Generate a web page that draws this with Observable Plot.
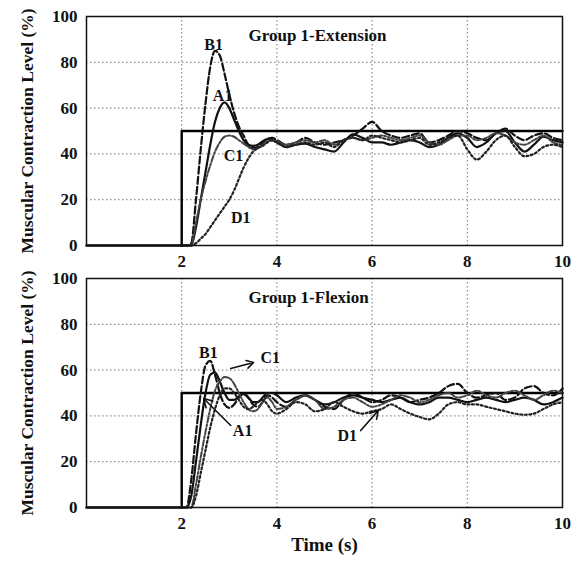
<!DOCTYPE html>
<html><head><meta charset="utf-8">
<script src="https://cdn.jsdelivr.net/npm/d3@7"></script>
<script src="https://cdn.jsdelivr.net/npm/@observablehq/plot@0.6"></script>
<style>
body{margin:0;background:#fff;}
#wrap{position:relative;width:577px;height:562px;}
#wrap svg{position:absolute;left:0;overflow:visible;}
</style></head><body><div id="wrap"></div>
<script>
// time samples (s)
const T = [2.0,2.1,2.2,2.3,2.4,2.5,2.6,2.7,2.8,2.9,3.0,3.1,3.2,3.3,3.4,3.5,3.6,3.7,3.8,3.9,4.0,4.2,4.4,4.6,4.8,5.0,5.2,5.4,5.6,5.8,6.0,6.2,6.4,6.6,6.8,7.0,7.2,7.4,7.6,7.8,8.0,8.2,8.4,8.6,8.8,9.0,9.2,9.4,9.6,9.8,10.0];
// reference step
const stepT = [0,2,2,10];
const stepV = [0,0,50,50];
// Group 1 - Extension
const extA1 = [0,0,0,8,20,32,44,54,60,62.5,60,55,50,46,44,43.5,44,45.5,46.5,46,45,43,44,44.5,43,42,41,45,48.5,47,45,45,44,45,46,45,43,44,47,49,47,43,45,49,50,45,41,44,47.5,46,45];
const extB1 = [0,0,1,20,42,62,78,85,83,75,66,58,52,48,44,42.5,43,45,46.5,47,46,44,45,47,45,44,45,46,48,51,54,50,48,47,48,49,45,46,48,50,49,47,46,49,51,48,46,48,49,47,46];
const extC1 = [0,0,0,10,20,28,35,41,45,47.5,48,47.5,46,44.5,43,42,42.5,44,45.5,46,45.5,44,45,46,45,46,44,46,47,46,47,48,47,46,47,48,45,44,46,48,48,46,47,49,48,45,44,46,48,45,44];
const extD1 = [0,0,0,1,3,5,8,11,14,17,20,24,29,34,38,41,42.5,43.5,45,46,45,43,44,45,44,45,43,46,47,46,48,47,46,45,46,47,44,45,47,48,42,37.5,41,46,48,43,39,40,43,44,43];
// Group 1 - Flexion
const flxA1 = [0,0,5,20,36,50,58,59,55,50,47,47,48.5,49.5,48,46,46,48,50,50,49,46,48,49,47,45,46,48,49,48,47,46,47,48,46,45,46,48,48,47,46,47,48,47,46,47,48,47,45,46,48];
const flxB1 = [0,0,12,32,50,62,64,58,50,45,43.5,45,48,50,48,45,44,46,49,48,46,44,47,49,47,44,43,47,50,48,46,47,49,48,46,47,48,50,53,54,50,48,49,50,47,48,52,53,50,49,52];
const flxC1 = [0,0,0,10,22,33,43,51,55,57,56.5,54,50,46,43,42,43,46,48,46,43,44,47,49,47,43,44,47,48,46,44,45,47,49,48,46,47,49,50,48,49,51,49,48,50,51,49,47,49,51,50];
const flxD1 = [0,0,0,5,15,25,35,43,49,52,52,50,47,44,43,44,46,47,45,42,41,43,46,45,42,43,46,44,42,41,42,43,45,43,41,39.5,38.5,41,45,46,45,45,44,43,42,41,40.5,41,43,45,46];
// curve labels (position in data units)
const extLabelNames = ["B1","A1","C1","D1"];
const extLabelT = [2.67,2.86,3.09,3.24];
const extLabelV = [87.8,65.5,39.3,12.2];
const flxLabelNames = ["B1","C1","A1","D1"];
const flxLabelT = [2.56,3.86,3.28,5.48];
const flxLabelV = [67.7,65.5,33.6,31.4];
// arrows in the flexion panel: from (t1,v1) to (t2,v2)
const flxArrowT1 = [3.03,3.03,5.76];
const flxArrowV1 = [60.7,35.8,33.6];
const flxArrowT2 = [3.51,2.46,6.13];
const flxArrowV2 = [63.3,47.6,42.4];
// text
const yTitle = "Muscular Contraction Level (%)";
const xTitle = "Time (s)";
const xTicks = [2,4,6,8,10];
const yTicks = [0,20,40,60,80,100];

const FONT = "Liberation Serif, Times New Roman, serif";
const styles = {
  A1: {stroke:"#111", strokeWidth:2.2},
  B1: {stroke:"#111", strokeWidth:2.2, strokeDasharray:"7,3"},
  C1: {stroke:"#444", strokeWidth:2, strokeDasharray:"6,2,2,2"},
  D1: {stroke:"#222", strokeWidth:2.2, strokeDasharray:"2,2.5"}
};
const mk = (vals) => T.map((t,i)=>({t, v: vals[i]}));
const step = stepT.map((t,i)=>({t, v: stepV[i]}));

function panel({series, title, labels, arrows, height, marginTop, marginBottom, xLabel}) {
  const marks = [
    Plot.gridX([2,4,6,8], {stroke:"#777", strokeOpacity:1, strokeWidth:1, strokeDasharray:"1.5,2.5"}),
    Plot.gridY([20,40,60,80], {stroke:"#777", strokeOpacity:1, strokeWidth:1, strokeDasharray:"1.5,2.5"}),
    Plot.line(step, {x:"t", y:"v", stroke:"#000", strokeWidth:2.4}),
  ];
  for (const [name, vals] of series) {
    marks.push(Plot.line(mk(vals), {x:"t", y:"v", curve:"monotone-x", ...styles[name]}));
  }
  marks.push(Plot.text(labels, {x:"t", y:"v", text:"name", fontWeight:"bold", fontSize:16, fontFamily:FONT, fill:"#111"}));
  if (arrows) marks.push(Plot.arrow(arrows, {x1:"t1", y1:"v1", x2:"t2", y2:"v2", stroke:"#111", strokeWidth:1.6, headLength:9}));
  marks.push(Plot.text([title], {frameAnchor:"top-left", dx:162, dy:19, textAnchor:"start", lineAnchor:"middle", fontWeight:"bold", fontSize:17, fontFamily:FONT, fill:"#111"}));
  marks.push(Plot.frame({stroke:"#111", strokeWidth:1.5}));
  marks.push(Plot.axisY({ticks:yTicks, tickSize:0, tickPadding:9, label:null, fontSize:17}));
  marks.push(Plot.axisX({ticks:xTicks, tickSize:0, tickPadding:9, label:null, fontSize:17}));
  marks.push(Plot.text([yTitle], {frameAnchor:"left", dx:-59, rotate:-90, textAnchor:"middle", lineAnchor:"middle", fontWeight:"bold", fontSize:17.5, fontFamily:FONT, fill:"#111"}));
  if (xLabel) marks.push(Plot.text([xLabel], {frameAnchor:"bottom", dy:43, fontWeight:"bold", fontSize:19, fontFamily:FONT, fill:"#111"}));
  return Plot.plot({
    width:577, height, marginLeft:86, marginRight:15, marginTop, marginBottom,
    style:{fontFamily:FONT, fontWeight:"bold", fontSize:"17px", color:"#111", background:"transparent"},
    x:{domain:[0,10]}, y:{domain:[0,100]},
    marks
  });
}

const top1 = panel({
  series:[["A1",extA1],["B1",extB1],["C1",extC1],["D1",extD1]],
  title:"Group 1-Extension",
  labels: extLabelNames.map((n,i)=>({name:n, t:extLabelT[i], v:extLabelV[i]})),
  height:268, marginTop:16, marginBottom:23, xLabel:null
});
const bot1 = panel({
  series:[["A1",flxA1],["B1",flxB1],["C1",flxC1],["D1",flxD1]],
  title:"Group 1-Flexion",
  labels: flxLabelNames.map((n,i)=>({name:n, t:flxLabelT[i], v:flxLabelV[i]})),
  arrows: flxArrowT1.map((t,i)=>({t1:t, v1:flxArrowV1[i], t2:flxArrowT2[i], v2:flxArrowV2[i]})),
  height:294, marginTop:10, marginBottom:55, xLabel:xTitle
});
top1.style.top = "0px";
bot1.style.top = "268px";
const wrap = document.getElementById("wrap");
wrap.appendChild(top1);
wrap.appendChild(bot1);
</script></body></html>
